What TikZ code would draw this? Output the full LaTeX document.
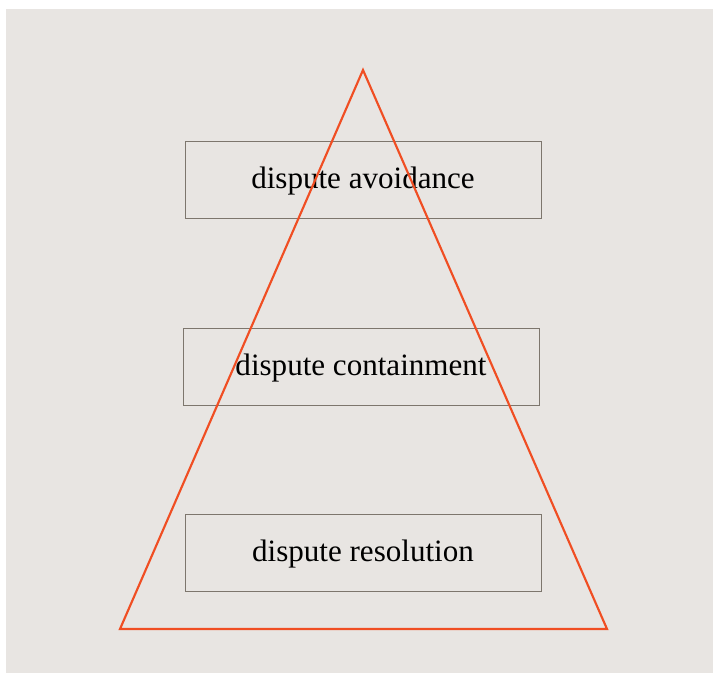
\documentclass[tikz,border=0pt]{standalone}
\usepackage{fontspec}
\setmainfont{Liberation Serif}
\begin{document}
\begin{tikzpicture}[x=0.75pt,y=-0.75pt,
  lvl/.style={draw=boxgray,line width=0.7pt,minimum width=267pt,minimum height=57.75pt,inner sep=0pt,
    text height=16pt,text depth=3pt,
    font=\fontsize{23.3}{26}\selectfont,text=black}]
\definecolor{bgc}{HTML}{E8E5E2}
\definecolor{boxgray}{HTML}{7D766D}
\definecolor{tri}{HTML}{F04E23}
\useasboundingbox (0,0) rectangle (713,673);
\fill[bgc] (6,9) rectangle (713,673);
\node[lvl] (a) at (363,179.5) {dispute avoidance};
\node[lvl] (c) at (361,366.5) {dispute containment};
\node[lvl] (r) at (363,552.5) {dispute resolution};
\coordinate (t1) at (363,70);
\coordinate (t2) at (607,629);
\coordinate (t3) at (120,629);
\draw[tri,line width=1.6pt,line join=miter] (t1) -- (t2) -- (t3) -- cycle;
\end{tikzpicture}
\end{document}
